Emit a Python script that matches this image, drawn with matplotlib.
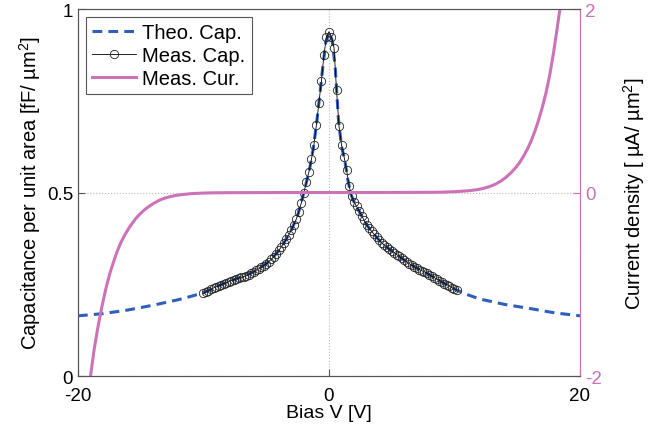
import matplotlib
matplotlib.use("Agg")
import matplotlib.pyplot as plt

plt.rcParams['font.family'] = ['Liberation Sans', 'DejaVu Sans']
plt.rcParams['mathtext.fontset'] = 'custom'
plt.rcParams['mathtext.rm'] = 'Liberation Sans'
plt.rcParams['mathtext.default'] = 'regular'
plt.rcParams['axes.unicode_minus'] = False

# theoretical capacitance (fF/um^2) vs bias (V)
theo_v = [-20, -18, -16, -14, -12, -11, -10, -9, -8, -7, -6, -5, -4.5, -4, -3.5, -3,
          -2.5, -2, -1.75, -1.5, -1.25, -1, -0.75, -0.5, -0.25, 0, 0.25, 0.5, 0.75,
          1, 1.25, 1.5, 1.75, 2, 2.5, 3, 3.5, 4, 4.5, 5, 6, 7, 8, 9, 10, 11, 12, 14,
          16, 18, 20]
theo_c = [0.164, 0.170, 0.180, 0.193, 0.208, 0.217, 0.227, 0.243, 0.257, 0.269, 0.284,
          0.306, 0.322, 0.342, 0.368, 0.398, 0.437, 0.500, 0.535, 0.572, 0.620, 0.685,
          0.760, 0.840, 0.910, 0.935, 0.915, 0.840, 0.700, 0.625, 0.590, 0.535, 0.495,
          0.474, 0.443, 0.412, 0.390, 0.370, 0.354, 0.341, 0.316, 0.294, 0.276, 0.256,
          0.237, 0.222, 0.210, 0.195, 0.184, 0.172, 0.164]

# measured capacitance
meas_v = [-10.0, -9.8, -9.6, -9.4, -9.2, -9.0, -8.8, -8.6, -8.4, -8.2, -8.0, -7.8, -7.6,
          -7.4, -7.2, -7.0, -6.8, -6.6, -6.4, -6.2, -6.0, -5.8, -5.6, -5.4, -5.2, -5.0,
          -4.8, -4.6, -4.4, -4.2, -4.0, -3.8, -3.6, -3.4, -3.2, -3.0, -2.8, -2.6, -2.4,
          -2.2, -2.0, -1.8, -1.6, -1.4, -1.2, -1.0, -0.8, -0.6, -0.4, -0.2, 0.0, 0.2,
          0.4, 0.6, 0.8, 1.0, 1.2, 1.4, 1.6, 1.8, 2.0, 2.2, 2.4, 2.6, 2.8, 3.0, 3.2,
          3.4, 3.6, 3.8, 4.0, 4.2, 4.4, 4.6, 4.8, 5.0, 5.2, 5.4, 5.6, 5.8, 6.0, 6.2,
          6.4, 6.6, 6.8, 7.0, 7.2, 7.4, 7.6, 7.8, 8.0, 8.2, 8.4, 8.6, 8.8, 9.0, 9.2,
          9.4, 9.6, 9.8, 10.0, 10.2]
meas_c = [0.226, 0.229, 0.232, 0.236, 0.240, 0.243, 0.246, 0.249, 0.252, 0.254, 0.257,
          0.260, 0.262, 0.265, 0.267, 0.269, 0.271, 0.273, 0.276, 0.280, 0.284, 0.288,
          0.292, 0.296, 0.301, 0.306, 0.312, 0.318, 0.325, 0.333, 0.342, 0.352, 0.362,
          0.373, 0.385, 0.398, 0.412, 0.428, 0.448, 0.472, 0.500, 0.528, 0.556, 0.590,
          0.630, 0.685, 0.745, 0.805, 0.875, 0.925, 0.938, 0.925, 0.895, 0.780, 0.680,
          0.630, 0.598, 0.562, 0.518, 0.490, 0.474, 0.462, 0.450, 0.437, 0.424, 0.412,
          0.402, 0.394, 0.386, 0.378, 0.370, 0.363, 0.357, 0.351, 0.346, 0.341, 0.336,
          0.331, 0.326, 0.321, 0.316, 0.311, 0.306, 0.302, 0.298, 0.294, 0.290, 0.287,
          0.284, 0.280, 0.276, 0.272, 0.268, 0.264, 0.260, 0.256, 0.252, 0.249, 0.245,
          0.241, 0.237, 0.234]

# measured current density (uA/um^2)
cur_v = [-19.0, -18.7, -18.4, -18.1, -17.8, -17.5, -17.2, -16.9, -16.6, -16.3, -16.0,
         -15.7, -15.4, -15.1, -14.8, -14.5, -14.2, -13.9, -13.6, -13.3, -13.0, -12.6,
         -12.2, -11.8, -11.4, -11.0, -10.5, -10.0, -9.0, -8.0, -6.0, -3.0, 0.0, 3.0,
         6.0, 8.0, 9.0, 10.0, 10.6, 11.2, 11.8, 12.3, 12.8, 13.3, 13.7, 14.1, 14.5,
         14.9, 15.2, 15.5, 15.8, 16.1, 16.4, 16.7, 17.0, 17.3, 17.6, 17.9, 18.15, 18.4]
cur_i = [-2.00, -1.70, -1.46, -1.25, -1.06, -0.90, -0.77, -0.65, -0.55, -0.47, -0.40,
         -0.34, -0.285, -0.24, -0.20, -0.167, -0.138, -0.113, -0.090, -0.072, -0.058,
         -0.043, -0.032, -0.024, -0.018, -0.013, -0.009, -0.006, -0.003, -0.002, -0.001,
         0.0, 0.0, 0.0, 0.001, 0.002, 0.004, 0.009, 0.014, 0.020, 0.031, 0.045, 0.065,
         0.093, 0.125, 0.165, 0.215, 0.275, 0.329, 0.395, 0.47, 0.56, 0.665, 0.79, 0.93,
         1.09, 1.29, 1.53, 1.76, 2.0]

blue = '#2f5fbd'
pink = '#cc72b8'

fig = plt.figure(figsize=(6.63, 4.35), dpi=100)
ax = fig.add_axes([0.1176, 0.1333, 0.7572, 0.8437])
ax2 = ax.twinx()

l1, = ax.plot(theo_v, theo_c, '--', color=blue, lw=2.2, dashes=(3.2, 2.0),
              label='Theo. Cap.')
l2, = ax.plot(meas_v, meas_c, '-', color='black', lw=0.6, marker='o', ms=6,
              mfc='none', mec='#222222', mew=0.6, label='Meas. Cap.')
l3, = ax2.plot(cur_v, cur_i, '-', color=pink, lw=2.2, label='Meas. Cur.')

ax.set_xlim(-20, 20)
ax.set_ylim(0, 1)
ax2.set_ylim(-2, 2)
ax.set_xticks([-20, 0, 20])
ax.set_yticks([0, 0.5, 1])
ax.set_yticklabels(['0', '0.5', '1'])
ax2.set_yticks([-2, 0, 2])

ax.grid(True, linestyle=':', color='#bbbbbb', lw=0.8)
ax.tick_params(direction='in', labelsize=13.5, length=5, color='#555555')
ax.tick_params(axis='x', pad=8)
ax2.tick_params(direction='in', labelsize=13.5, length=5, colors=pink)

for s in ['left', 'bottom', 'top']:
    ax.spines[s].set_color('#555555')
    ax2.spines[s].set_color('#555555')
ax2.spines['right'].set_color(pink)
ax.spines['right'].set_color(pink)

ax.set_xlabel('Bias V [V]', fontsize=14, labelpad=0)
ax.set_ylabel(r'Capacitance per unit area [fF/ µm$^2$]', fontsize=14.5, labelpad=3)
ax2.set_ylabel(r'Current density [ µA/ µm$^2$]', fontsize=14.5, labelpad=14)

leg = ax2.legend(handles=[l1, l2, l3], loc='upper left', fontsize=14.5,
                 fancybox=False, edgecolor='#555555', framealpha=1,
                 handlelength=2.2, handletextpad=0.3, borderpad=0.3,
                 labelspacing=0.2, borderaxespad=0.4)
leg.get_frame().set_linewidth(0.8)

fig.savefig('out.png', dpi=100)
